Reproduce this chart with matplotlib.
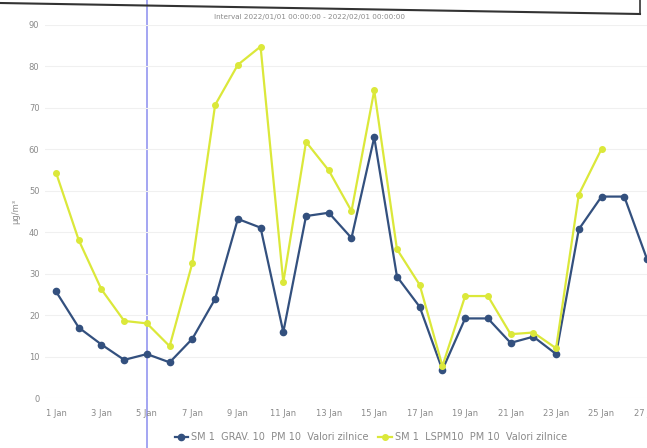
import matplotlib
matplotlib.use("Agg")
import matplotlib.pyplot as plt
from matplotlib.lines import Line2D

# daily values, January 2022
days = list(range(1, 28))
grav = [25.7, 17.0, 12.9, 9.2, 10.6, 8.6, 14.3, 23.9, 43.2, 41.1, 15.9, 43.9, 44.7, 38.6,
        62.9, 29.3, 22.0, 6.8, 19.2, 19.2, 13.3, 14.8, 10.6, 40.7, 48.6, 48.6, 33.5]
lspm_days = list(range(1, 26))
lspm = [54.4, 38.1, 26.2, 18.6, 18.0, 12.5, 32.6, 70.7, 80.4, 84.8, 27.9, 61.8, 54.9, 45.1,
        74.2, 35.9, 27.3, 7.7, 24.6, 24.6, 15.4, 15.8, 12.0, 49.1, 60.1]
tick_days = list(range(1, 28, 2))
tick_labels = ["%d Jan" % d for d in tick_days]
yticks = list(range(0, 100, 10))

blue = "#33507e"
yellow = "#dbe83a"
grey = "#8a8a8a"

fig = plt.figure(figsize=(6.47, 4.48), dpi=100)
ax = fig.add_axes([0.0696, 0.1116, 0.9304, 0.8326])

ax.plot(days, grav, color=blue, lw=1.6, marker="o", ms=4.5, zorder=3,
        label="SM 1  GRAV. 10  PM 10  Valori zilnice")
ax.plot(lspm_days, lspm, color=yellow, lw=1.6, marker="o", ms=4, zorder=3,
        label="SM 1  LSPM10  PM 10  Valori zilnice")

ax.set_xlim(1 - 11 / 22.8, 1 + (647 - 56) / 22.8)
ax.set_ylim(0, 90)
ax.set_yticks(yticks)
ax.set_xticks(tick_days)
ax.set_xticklabels(tick_labels)
ax.tick_params(axis="both", length=0, labelsize=6, labelcolor=grey)
ax.tick_params(axis="y", pad=4)
ax.tick_params(axis="x", pad=8)
ax.grid(axis="y", color="#f0f0f0", lw=0.8)
for s in ax.spines.values():
    s.set_visible(False)
ax.set_ylabel("µg/m³", fontsize=6, color=grey, labelpad=6)

# crosshair at 5 Jan
ax.axvline(5, ymin=-0.14, ymax=1.14, color="#9496f0", lw=1.2, clip_on=False, zorder=1)

fig.text(0.478, 0.963, "Interval 2022/01/01 00:00:00 - 2022/02/01 00:00:00",
         fontsize=5.2, color=grey, ha="center", va="center")

leg = fig.legend(loc="center", bbox_to_anchor=(0.573, 0.024), ncol=2, frameon=False,
                 fontsize=7, handlelength=1.4, columnspacing=1.0, handletextpad=0.3)
for t in leg.get_texts():
    t.set_color(grey)

# edge of the printed box above the chart
fig.add_artist(Line2D([0, 640 / 647], [1 - 3 / 448, 1 - 14 / 448], color="#333333", lw=1.5))
fig.add_artist(Line2D([640 / 647, 640 / 647], [1, 1 - 14 / 448], color="#333333", lw=1.2))

fig.savefig("out.png", dpi=100)
